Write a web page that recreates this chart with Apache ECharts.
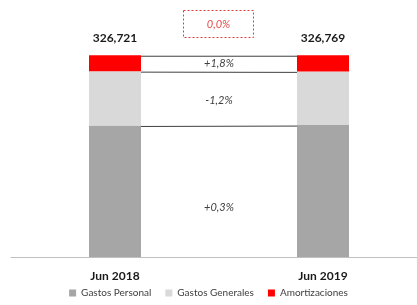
<!DOCTYPE html>
<html>
<head>
<meta charset="utf-8">
<script src="https://cdn.jsdelivr.net/npm/echarts@6/dist/echarts.min.js"></script>
<style>
  html, body { margin: 0; padding: 0; background: #fff; }
  #chart { width: 417px; height: 305px; }
</style>
</head>
<body>
<div id="chart"></div>
<script>
// datos
var periodos = ['Jun 2018', 'Jun 2019'];
var gastosPersonal = [213000, 213639];
var gastosGenerales = [88000, 86944];
var amortizaciones = [25721, 26186];
var totales = ['326,721', '326,769'];
var variaciones = ['+0,3%', '-1,2%', '+1,8%'];
var variacionTotal = '0,0%';

var fuente = 'Lato';
var desplazEtiqueta = [16, 2, 0]; // ajuste vertical (px) de cada % respecto al centro del tramo

// limites acumulados de cada tramo (para las lineas entre barras)
var limites = [];
var medios = [];
(function () {
    var series = [gastosPersonal, gastosGenerales, amortizaciones];
    var acum = [0, 0];
    for (var i = 0; i < series.length; i++) {
        var ini = acum.slice();
        acum = [acum[0] + series[i][0], acum[1] + series[i][1]];
        limites.push([acum[0], acum[1]]);
        medios.push([(ini[0] + acum[0]) / 2, (ini[1] + acum[1]) / 2, variaciones[i]]);
    }
})();

var myChart = echarts.init(document.getElementById('chart'));
var anchoBarra = 52;

var option = {
    backgroundColor: '#fff',
    animation: false,
    grid: {left: 11, top: 10, width: 416, height: 247, outerBoundsMode: 'none', containLabel: false},
    legend: {
        bottom: 2,
        left: 'center',
        itemWidth: 7,
        itemHeight: 7,
        itemGap: 14,
        icon: 'rect',
        textStyle: {fontFamily: fuente, fontSize: 10, color: '#404040'},
        data: ['Gastos Personal', 'Gastos Generales', 'Amortizaciones']
    },
    xAxis: {
        type: 'category',
        data: periodos,
        axisTick: {show: false},
        axisLine: {lineStyle: {color: '#c0c0c0'}},
        axisLabel: {fontFamily: fuente, fontWeight: 'bold', fontSize: 12, color: '#1a1a1a', margin: 13}
    },
    yAxis: {
        type: 'value', min: 0, max: 400000,
        show: false, splitLine: {show: false}
    },
    graphic: [{
        type: 'group', left: 183, top: 10,
        children: [
            {type: 'rect', shape: {x: 0, y: 0, width: 70, height: 27},
                style: {fill: '#fff', stroke: '#e03c3c', lineWidth: 1, lineDash: [2, 2]}},
            {type: 'text', x: 35, y: 14,
                style: {text: variacionTotal, fill: '#e34a4a', fontFamily: fuente, fontStyle: 'italic', fontSize: 11,
                    textAlign: 'center', textVerticalAlign: 'middle'}}
        ]
    }],
    series: [
        {
            name: 'Gastos Personal', type: 'bar', stack: 'g', barWidth: anchoBarra,
            itemStyle: {color: '#a6a6a6'}, data: gastosPersonal
        },
        {
            name: 'Gastos Generales', type: 'bar', stack: 'g', barWidth: anchoBarra,
            itemStyle: {color: '#d9d9d9'}, data: gastosGenerales
        },
        {
            name: 'Amortizaciones', type: 'bar', stack: 'g', barWidth: anchoBarra,
            itemStyle: {color: '#ff0000'}, data: amortizaciones,
            label: {
                show: true, position: 'top', distance: 11,
                fontFamily: fuente, fontWeight: 'bold', fontSize: 12, color: '#1a1a1a',
                formatter: function (p) { return totales[p.dataIndex]; }
            }
        },
        {
            type: 'custom', silent: true, z: 5,
            data: limites,
            renderItem: function (params, api) {
                var a = api.coord([0, api.value(0)]);
                var b = api.coord([1, api.value(1)]);
                return {
                    type: 'line',
                    shape: {x1: a[0] + anchoBarra / 2, y1: a[1] + 1, x2: b[0] - anchoBarra / 2, y2: b[1] + 1},
                    style: {stroke: '#404040', lineWidth: 1}
                };
            }
        },
        {
            type: 'custom', silent: true, z: 5,
            data: medios,
            renderItem: function (params, api) {
                var a = api.coord([0, api.value(0)]);
                var b = api.coord([1, api.value(1)]);
                return {
                    type: 'text',
                    x: (a[0] + b[0]) / 2, y: (a[1] + b[1]) / 2 + desplazEtiqueta[params.dataIndex],
                    style: {text: medios[params.dataIndex][2], fill: '#404040', fontFamily: fuente,
                        fontStyle: 'italic', fontSize: 11, textAlign: 'center', textVerticalAlign: 'middle'}
                };
            }
        }
    ]
};
myChart.setOption(option);
</script>
</body>
</html>
